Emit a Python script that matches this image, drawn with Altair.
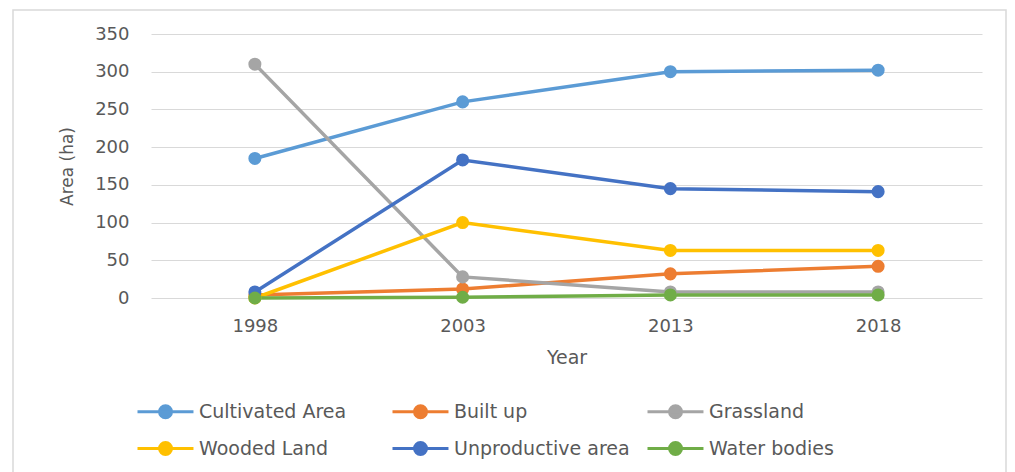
import altair as alt
import pandas as pd

years = ["1998", "2003", "2013", "2018"]
series = ["Cultivated Area", "Built up", "Grassland", "Wooded Land", "Unproductive area", "Water bodies"]
colors = ["#5B9BD5", "#ED7D31", "#A5A5A5", "#FFC000", "#4472C4", "#70AD47"]
cultivated = [185, 260, 300, 302]
built_up = [4, 12, 32, 42]
grassland = [310, 28, 8, 8]
wooded = [0, 100, 63, 63]
unproductive = [8, 183, 145, 141]
water = [0, 1, 4, 4]

values = [cultivated, built_up, grassland, wooded, unproductive, water]
rows = []
for si, (name, vals) in enumerate(zip(series, values)):
    for y, v in zip(years, vals):
        rows.append({"Year": y, "Series": name, "Area": v, "k": si})
df = pd.DataFrame(rows)

FONT = "DejaVu Sans"
GRAY = "#595959"

legend_path = "M-1,0H8.33M2.67,0A1,1 0 1,1 4.67,0A1,1 0 1,1 2.67,0Z"

x_enc = alt.X("Year:N", sort=years, scale=alt.Scale(type="point", padding=0.5),
              axis=alt.Axis(title="Year", labelAngle=0, ticks=False, domain=False, grid=False,
                            labelPadding=19, titlePadding=13, labelFontSize=18, titleFontSize=19))
y_enc = alt.Y("Area:Q", scale=alt.Scale(domain=[0, 350], nice=False),
              axis=alt.Axis(title="Area (ha)", values=list(range(0, 351, 50)), ticks=False,
                            domain=False, labelPadding=22, titleX=-75, labelFontSize=18,
                            titleFontSize=17))
color_enc = alt.Color("Series:N", sort=series,
                      scale=alt.Scale(domain=series, range=colors),
                      legend=alt.Legend(title=None, orient="none", legendX=-17, legendY=368,
                                        direction="horizontal",
                                        columns=3, symbolType=legend_path, symbolSize=144,
                                        symbolStrokeWidth=3, labelOffset=46, columnPadding=11,
                                        rowPadding=12, gridAlign="all", padding=0,
                                        labelLimit=400,
                                        labelFontSize=19, labelColor=GRAY, labelFont=FONT))

border = alt.Chart(pd.DataFrame({"a": [0]})).mark_rect(
    fill=None, stroke="#D9D9D9", strokeWidth=1.5
).encode(x=alt.value(-138), x2=alt.value(855), y=alt.value(-24), y2=alt.value(460))

lines = alt.Chart(df).mark_line(
    strokeWidth=3.5,
    point=alt.OverlayMarkDef(filled=True, size=170, opacity=1),
).encode(x=x_enc, y=y_enc, color=color_enc, order="k:Q")

chart = alt.layer(border, lines).properties(
    width=831, height=264,
    autosize=alt.AutoSizeParams(type="none"),
    padding={"left": 143, "top": 26, "right": 25, "bottom": 180},
).configure_view(stroke=None).configure_axis(
    labelFont=FONT, titleFont=FONT,
    labelColor=GRAY, titleColor=GRAY, titleFontWeight="normal",
    gridColor="#D9D9D9", gridWidth=1,
)

chart.save("out.html", embed_options={"renderer": "svg", "actions": False})
